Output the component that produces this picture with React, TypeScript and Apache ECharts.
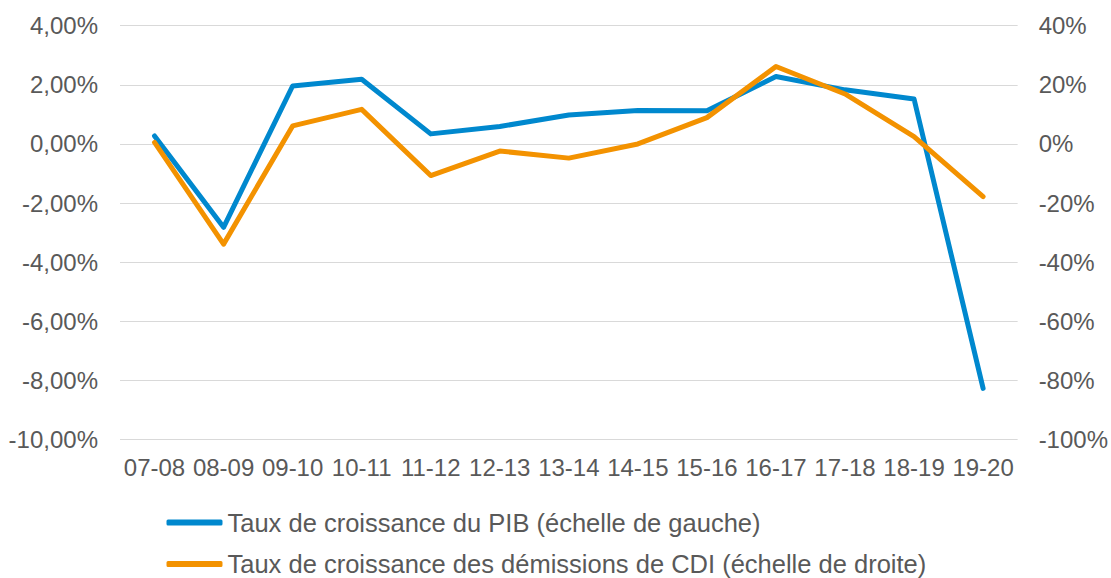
import React, { useEffect, useRef } from "react";
import * as echarts from "echarts";

const categories = ["07-08", "08-09", "09-10", "10-11", "11-12", "12-13", "13-14", "14-15", "15-16", "16-17", "17-18", "18-19", "19-20"];
const pibGrowth = [0.27, -2.82, 1.96, 2.19, 0.34, 0.59, 0.98, 1.13, 1.12, 2.28, 1.83, 1.52, -8.27];
const cdiGrowth = [0.5, -33.9, 6.1, 11.7, -10.7, -2.4, -4.8, 0.0, 8.9, 26.2, 16.9, 2.5, -17.8];
const seriesNames = [
  "Taux de croissance du PIB (échelle de gauche)",
  "Taux de croissance des démissions de CDI (échelle de droite)",
];

const FONT = "'Liberation Sans', Arial, sans-serif";
const TEXT = "#595959";
const BLUE = "#0088CE";
const ORANGE = "#F39200";

const legendBase = {
  orient: "horizontal",
  left: 166.5,
  padding: 0,
  itemWidth: 56,
  itemHeight: 6,
  icon: "roundRect",
  textStyle: { fontFamily: FONT, fontSize: 25.5, color: TEXT, lineHeight: 22 },
};

export default function App() {
  const ref = useRef<HTMLDivElement>(null);
  useEffect(() => {
    if (!ref.current) return;
    const chart = echarts.init(ref.current, undefined, { renderer: "svg" });
    chart.setOption({
      animation: false,
      textStyle: { fontFamily: FONT },
      grid: { left: 120, right: 92, top: 25.7, bottom: 138.5, containLabel: false },
      legend: [
        { ...legendBase, top: 509.5, data: [seriesNames[0]] },
        { ...legendBase, top: 551, data: [seriesNames[1]] },
      ],
      xAxis: {
        type: "category",
        data: categories,
        boundaryGap: true,
        axisLine: { show: false },
        axisTick: { show: false },
        axisLabel: { color: TEXT, fontSize: 24, fontFamily: FONT, margin: 16, interval: 0 },
      },
      yAxis: [
        {
          type: "value",
          min: -10,
          max: 4,
          interval: 2,
          axisLine: { show: false },
          axisTick: { show: false },
          splitLine: { lineStyle: { color: "#d9d9d9", width: 1 } },
          axisLabel: {
            color: TEXT,
            fontSize: 24,
            fontFamily: FONT,
            margin: 22,
            formatter: (v: number) => v.toFixed(2).replace(".", ",") + "%",
          },
        },
        {
          type: "value",
          min: -100,
          max: 40,
          interval: 20,
          axisLine: { show: false },
          axisTick: { show: false },
          splitLine: { show: false },
          axisLabel: {
            color: TEXT,
            fontSize: 24,
            fontFamily: FONT,
            margin: 21,
            formatter: (v: number) => v + "%",
          },
        },
      ],
      series: [
        {
          name: seriesNames[0],
          type: "line",
          data: pibGrowth,
          yAxisIndex: 0,
          symbol: "none",
          lineStyle: { color: BLUE, width: 5, cap: "round", join: "round" },
          itemStyle: { color: BLUE },
          z: 2,
        },
        {
          name: seriesNames[1],
          type: "line",
          data: cdiGrowth,
          yAxisIndex: 1,
          symbol: "none",
          lineStyle: { color: ORANGE, width: 5, cap: "round", join: "round" },
          itemStyle: { color: ORANGE },
          z: 3,
        },
      ],
    });
    return () => chart.dispose();
  }, []);
  return (
    <div
      ref={ref}
      style={{ position: "absolute", left: 0, top: 0, width: 1111, height: 578, background: "#fff" }}
    />
  );
}
